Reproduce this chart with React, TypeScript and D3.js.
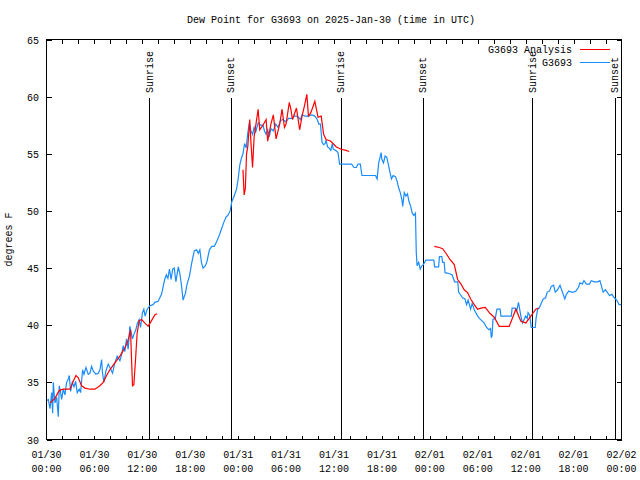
import React from "react";
import * as d3 from "d3";

const TITLE = "Dew Point for G3693 on 2025-Jan-30 (time in UTC)";
const Y_LABEL = "degrees F";
const Y_TICKS = [30, 35, 40, 45, 50, 55, 60, 65];
const X_LABEL_HOURS = [0, 6, 12, 18, 24, 30, 36, 42, 48, 54, 60, 66, 72];
const X_LABEL_DATES = ["01/30", "01/30", "01/30", "01/30", "01/31", "01/31", "01/31", "01/31", "02/01", "02/01", "02/01", "02/01", "02/02"];
const X_LABEL_TIMES = ["00:00", "06:00", "12:00", "18:00", "00:00", "06:00", "12:00", "18:00", "00:00", "06:00", "12:00", "18:00", "00:00"];
const SUNRISE = [12.85, 36.85, 60.8];
const SUNSET = [23.1, 47.1, 71.15];
const SERIES_NAMES = ["G3693 Analysis", "G3693"];
const SERIES_COLORS = ["#ff0000", "#1a8cff"];

// observations: [hours since 01/30 00:00 UTC, dew point F]
const OBS: [number, number][] = [
  [0.0, 33.4], [0.23, 33.5], [0.44, 32.7], [0.65, 34.1], [0.77, 32.3], [0.85, 35.0], [1.06, 33.2], [1.27, 33.7],
  [1.48, 32.0], [1.6, 34.7], [1.77, 34.1], [1.9, 33.5], [2.1, 34.4], [2.31, 33.9], [2.52, 35.0], [2.73, 35.3],
  [2.85, 35.6], [3.02, 34.2], [3.23, 35.0], [3.44, 34.6], [3.65, 35.1], [3.85, 34.1], [4.1, 34.4], [4.27, 34.1],
  [4.52, 36.1], [4.69, 35.7], [4.94, 36.3], [5.23, 35.7], [5.44, 35.8], [5.65, 36.4], [5.85, 36.0], [6.19, 35.7],
  [6.48, 35.8], [6.69, 36.1], [6.9, 37.0], [7.02, 35.8], [7.19, 35.0], [7.44, 36.0], [7.73, 36.6], [7.94, 36.3],
  [8.27, 35.8], [8.56, 36.7], [8.85, 37.3], [9.19, 36.9], [9.4, 37.4], [9.6, 38.2], [9.81, 37.7], [10.02, 38.8],
  [10.23, 37.9], [10.44, 39.9], [10.56, 39.5], [10.77, 38.8], [10.94, 39.2], [11.19, 39.6], [11.35, 40.1],
  [11.6, 40.5], [11.77, 39.8], [12.02, 41.1], [12.19, 41.4], [12.35, 40.8], [12.6, 41.4], [12.94, 41.7],
  [13.35, 41.8], [13.56, 42.0], [13.98, 42.1], [14.4, 42.7], [14.8, 44.0], [15.0, 44.4], [15.2, 44.1],
  [15.4, 44.9], [15.6, 44.0], [15.8, 44.9], [16.0, 45.0], [16.2, 43.8], [16.5, 45.1], [16.7, 44.5],
  [16.9, 43.5], [17.1, 42.2], [17.4, 42.8], [17.6, 43.6], [17.9, 44.3], [18.2, 45.5], [18.5, 46.5],
  [18.8, 46.6], [19.0, 46.3], [19.2, 46.6], [19.4, 45.5], [19.6, 45.0], [19.9, 45.2], [20.1, 45.6],
  [20.4, 46.6], [20.7, 46.9], [21.0, 46.9], [21.3, 47.3], [21.6, 47.8], [21.9, 48.4], [22.2, 49.0],
  [22.5, 49.5], [22.7, 49.6], [23.0, 50.0], [23.2, 50.8], [23.5, 51.3], [23.8, 51.9], [24.0, 52.8],
  [24.2, 54.0], [24.4, 54.6], [24.6, 55.0], [24.8, 55.9], [25.0, 55.5], [25.2, 56.8], [25.4, 57.7],
  [25.6, 57.0], [25.8, 56.7], [26.0, 57.3], [26.2, 56.9], [26.5, 57.7], [26.8, 57.5], [27.1, 57.5],
  [27.3, 57.0], [27.5, 56.7], [27.7, 57.1], [27.9, 56.5], [28.1, 57.2], [28.4, 57.0], [28.7, 57.6],
  [29.0, 57.3], [29.3, 57.9], [29.6, 58.0], [30.0, 57.8], [30.3, 58.1], [30.8, 58.1], [31.0, 58.3],
  [31.4, 58.3], [31.8, 58.0], [32.0, 58.4], [32.4, 58.3], [32.8, 58.3], [33.2, 58.4], [33.6, 58.3],
  [33.9, 58.0], [34.1, 57.6], [34.3, 57.6], [34.5, 56.0], [34.7, 55.8], [34.9, 55.9], [35.0, 56.2],
  [35.2, 55.6], [35.4, 55.5], [35.6, 55.3], [35.8, 55.9], [35.9, 55.4], [36.2, 55.3], [36.5, 55.1],
  [36.7, 54.1], [37.0, 54.1], [38.2, 54.1], [38.5, 53.8], [38.8, 53.8], [39.0, 54.1], [39.3, 54.1],
  [39.5, 53.1], [41.2, 53.1], [41.4, 52.8], [41.6, 54.2], [41.9, 55.1], [42.0, 54.5], [42.2, 54.2],
  [42.4, 54.8], [42.6, 54.7], [42.8, 54.1], [43.0, 53.4], [43.2, 52.8], [43.4, 53.1], [43.7, 53.0],
  [43.9, 52.6], [44.1, 52.0], [44.3, 51.6], [44.5, 51.0], [44.6, 50.4], [44.8, 51.6], [45.0, 51.3],
  [45.2, 51.5], [45.4, 50.8], [45.6, 50.4], [45.8, 49.8], [46.0, 49.6], [46.2, 49.8], [46.3, 46.4],
  [46.4, 45.2], [46.6, 45.5], [46.8, 44.9], [47.0, 45.2], [47.2, 45.3], [47.5, 45.7], [48.5, 45.7],
  [48.6, 45.1], [49.1, 45.1], [49.2, 46.0], [49.5, 46.0], [49.6, 45.5], [49.8, 45.5], [49.9, 44.6],
  [50.5, 44.5], [50.8, 44.4], [51.1, 43.8], [51.5, 43.8], [51.6, 42.9], [51.9, 42.6], [52.1, 42.4],
  [52.4, 42.3], [52.6, 41.8], [52.8, 42.2], [53.1, 41.4], [53.3, 41.9], [53.6, 41.3], [53.9, 40.9],
  [54.2, 40.6], [54.5, 40.4], [54.8, 40.2], [55.1, 39.8], [55.4, 39.6], [55.6, 39.7], [55.7, 38.9],
  [55.8, 39.1], [55.9, 40.5], [56.2, 40.6], [56.4, 41.4], [56.8, 41.4], [56.9, 40.8], [58.2, 40.8],
  [58.3, 41.5], [58.7, 41.5], [58.9, 41.3], [59.1, 42.0], [59.2, 41.6], [59.4, 40.8], [59.6, 40.2],
  [59.8, 40.5], [60.0, 40.8], [60.2, 40.6], [60.3, 41.1], [60.5, 40.9], [60.7, 39.8], [61.2, 39.8],
  [61.3, 40.6], [61.5, 41.4], [61.7, 41.5], [62.0, 42.0], [62.2, 42.3], [62.5, 42.4], [62.7, 42.9],
  [63.0, 43.0], [63.2, 43.4], [63.5, 43.5], [63.7, 42.9], [64.0, 43.1], [64.3, 43.5], [64.6, 42.9],
  [64.9, 42.3], [65.1, 42.7], [65.4, 43.0], [65.7, 42.9], [66.0, 42.9], [66.3, 43.0], [66.6, 43.3],
  [66.8, 43.7], [67.1, 43.6], [67.3, 43.9], [67.6, 43.6], [68.0, 43.6], [68.2, 43.9], [68.6, 43.8],
  [69.0, 43.8], [69.3, 43.9], [69.5, 43.4], [69.7, 42.9], [70.0, 43.1], [70.2, 42.9], [70.5, 42.6],
  [70.8, 42.7], [71.1, 42.4], [71.4, 42.2], [71.7, 41.8], [72.0, 41.8],
];

// analysis segments
const ANALYSIS_1: [number, number][] = [
  [0.44, 33.2], [1.06, 33.6], [1.6, 34.3], [2.1, 34.4], [2.94, 34.4], [3.35, 35.1], [3.69, 35.6], [3.98, 35.4],
  [4.4, 34.7], [4.81, 34.5], [5.44, 34.4], [6.06, 34.4], [6.69, 34.7], [7.1, 35.0], [7.52, 35.6], [7.94, 36.1],
  [8.56, 36.7], [9.19, 37.3], [9.81, 38.0], [10.23, 38.7], [10.52, 39.6], [10.65, 37.0], [10.77, 34.7],
  [10.94, 34.8], [11.15, 37.0], [11.35, 39.3], [11.6, 40.4], [11.9, 40.5], [12.3, 40.2], [12.73, 39.9],
  [13.15, 40.4], [13.56, 40.9], [13.85, 41.0],
];
const ANALYSIS_2: [number, number][] = [
  [24.6, 53.6], [24.75, 51.4], [24.9, 52.0], [25.05, 55.0], [25.2, 55.6], [25.45, 58.0], [25.6, 56.0],
  [25.8, 53.8], [26.0, 56.5], [26.25, 57.7], [26.5, 58.9], [26.7, 57.1], [27.1, 57.5], [27.5, 58.0],
  [27.7, 56.1], [28.1, 57.6], [28.4, 58.4], [28.75, 56.3], [29.2, 57.6], [29.5, 58.9], [29.8, 57.3],
  [30.0, 57.6], [30.4, 59.5], [30.6, 58.9], [30.8, 58.0], [31.3, 59.0], [31.7, 57.1], [32.0, 58.3],
  [32.3, 59.2], [32.6, 60.2], [32.8, 58.3], [33.1, 58.6], [33.6, 59.6], [34.0, 58.2], [34.4, 58.3],
  [34.7, 56.7], [35.0, 56.25], [35.6, 56.1], [36.3, 55.6], [36.9, 55.4], [37.5, 55.3], [37.9, 55.2],
];
const ANALYSIS_3: [number, number][] = [
  [48.56, 46.9], [49.19, 46.8], [49.6, 46.7], [50.02, 46.3], [50.52, 45.75], [51.06, 45.3], [51.48, 44.0],
  [51.9, 43.6], [52.3, 43.1], [52.73, 42.85], [53.15, 42.25], [53.56, 41.8], [53.98, 41.4], [54.4, 41.5],
  [54.94, 41.55], [55.44, 41.1], [56.06, 40.7], [56.69, 39.9], [57.94, 39.9], [58.77, 41.4], [59.4, 40.35],
  [60.02, 40.2], [60.65, 40.8], [61.27, 41.4], [61.6, 41.5],
];

const W = 640;
const H = 480;
const L = 46.5, R = 621.5, T = 39.5, B = 439.5;
const FONT = "'Liberation Mono', 'DejaVu Sans Mono', monospace";

export default function App() {
  const x = d3.scaleLinear().domain([0, 72]).range([L, R]);
  const y = d3.scaleLinear().domain([30, 65]).range([B, T]);
  const line = d3.line<[number, number]>().x((d) => x(d[0])).y((d) => y(d[1]));
  const minorX = d3.range(2, 72, 2);
  const tickLen = 4;

  return (
    <svg width={W} height={H} style={{ position: "absolute", left: 0, top: 0, background: "#fff" }}
      fontFamily={FONT} fontSize={10}>
      <rect x={0} y={0} width={W} height={H} fill="#fff" />
      <text x={W / 2 + 11} y={23} textAnchor="middle">{TITLE}</text>

      {/* ticks */}
      <g stroke="#000" strokeWidth={1} shapeRendering="crispEdges">
        {minorX.map((h) => (
          <g key={"xt" + h}>
            <line x1={Math.round(x(h)) + 0.5} x2={Math.round(x(h)) + 0.5} y1={B} y2={B - tickLen} />
            <line x1={Math.round(x(h)) + 0.5} x2={Math.round(x(h)) + 0.5} y1={T} y2={T + tickLen} />
          </g>
        ))}
        {Y_TICKS.map((v) => (
          <g key={"yt" + v}>
            <line x1={L} x2={L + tickLen + 1} y1={Math.round(y(v)) + 0.5} y2={Math.round(y(v)) + 0.5} />
            <line x1={R} x2={R - tickLen - 1} y1={Math.round(y(v)) + 0.5} y2={Math.round(y(v)) + 0.5} />
          </g>
        ))}
      </g>

      {/* y tick labels */}
      {Y_TICKS.map((v) => (
        <text key={"yl" + v} x={39} y={y(v) + 4} textAnchor="end">{v}</text>
      ))}
      <text transform={`translate(12,${(T + B) / 2}) rotate(-90)`} textAnchor="middle">{Y_LABEL}</text>

      {/* x tick labels */}
      {X_LABEL_HOURS.map((h, i) => (
        <g key={"xl" + h}>
          <text x={x(h)} y={458} textAnchor="middle">{X_LABEL_DATES[i]}</text>
          <text x={x(h)} y={472} textAnchor="middle">{X_LABEL_TIMES[i]}</text>
        </g>
      ))}

      {/* sunrise / sunset */}
      {SUNRISE.map((h) => (
        <g key={"sr" + h}>
          <line x1={Math.round(x(h)) + 0.5} x2={Math.round(x(h)) + 0.5} y1={98} y2={B} stroke="#000" shapeRendering="crispEdges" />
          <text transform={`translate(${x(h) + 1},93) rotate(-90)`} dominantBaseline="central">Sunrise</text>
        </g>
      ))}
      {SUNSET.map((h) => (
        <g key={"ss" + h}>
          <line x1={Math.round(x(h)) + 0.5} x2={Math.round(x(h)) + 0.5} y1={98} y2={B} stroke="#000" shapeRendering="crispEdges" />
          <text transform={`translate(${x(h) + 1},93) rotate(-90)`} dominantBaseline="central">Sunset</text>
        </g>
      ))}

      {/* series */}
      <path d={line(OBS) || ""} fill="none" stroke={SERIES_COLORS[1]} strokeWidth={1.2} />
      {[ANALYSIS_1, ANALYSIS_2, ANALYSIS_3].map((seg, i) => (
        <path key={"an" + i} d={line(seg) || ""} fill="none" stroke={SERIES_COLORS[0]} strokeWidth={1.2} />
      ))}

      {/* legend */}
      {SERIES_NAMES.map((name, i) => (
        <g key={"lg" + i}>
          <text x={572} y={53 + i * 13} textAnchor="end">{name}</text>
          <line x1={580} x2={610} y1={49.5 + i * 13} y2={49.5 + i * 13} stroke={SERIES_COLORS[i]} strokeWidth={1} shapeRendering="crispEdges" />
        </g>
      ))}

      {/* frame */}
      <rect x={L} y={T} width={R - L} height={B - T} fill="none" stroke="#000" strokeWidth={1} shapeRendering="crispEdges" />
    </svg>
  );
}
